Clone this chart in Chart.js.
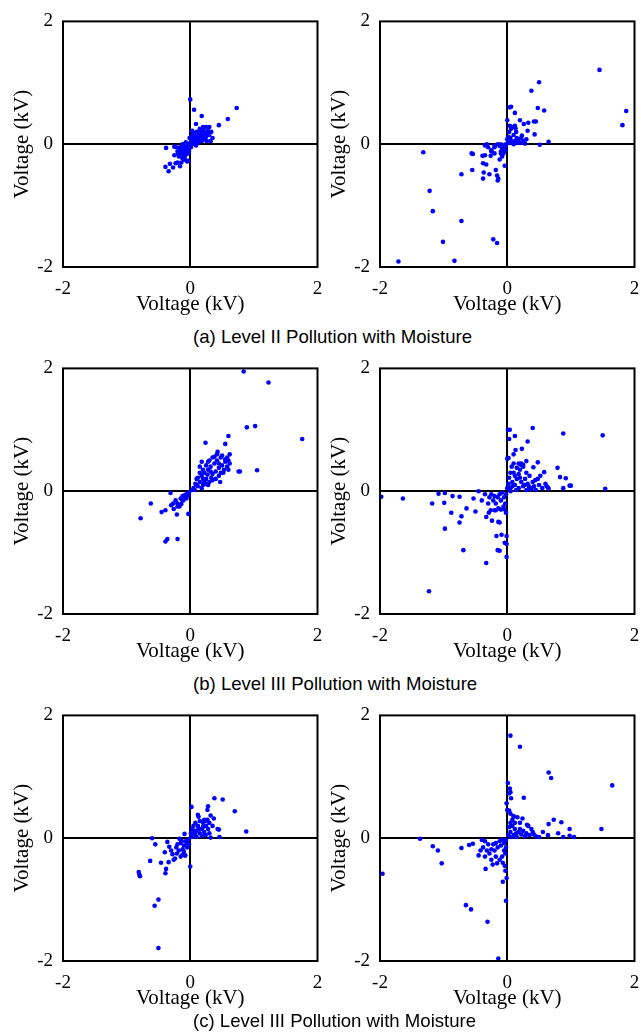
<!DOCTYPE html>
<html>
<head>
<meta charset="utf-8">
<script src="https://cdn.jsdelivr.net/npm/chart.js@4/dist/chart.umd.min.js"></script>
<style>
  body { margin: 0; background: #fff; width: 641px; height: 1035px; overflow: hidden; position: relative; }
  .panel { position: absolute; width: 328px; height: 320px; }
  .caption { position: absolute; left: 193px; font: 18.6px/18px "Liberation Sans", Arial, sans-serif; color: #000; white-space: nowrap; }
</style>
</head>
<body>

<div class="panel" style="left:0px;top:0px"><canvas id="aL" width="328" height="320"></canvas></div>
<div class="panel" style="left:317px;top:0px"><canvas id="aR" width="328" height="320"></canvas></div>
<div class="caption" style="top:328px">(a) Level II Pollution with Moisture</div>

<div class="panel" style="left:0px;top:347px"><canvas id="bL" width="328" height="320"></canvas></div>
<div class="panel" style="left:317px;top:347px"><canvas id="bR" width="328" height="320"></canvas></div>
<div class="caption" style="top:675px">(b) Level III Pollution with Moisture</div>

<div class="panel" style="left:0px;top:694px"><canvas id="cL" width="328" height="320"></canvas></div>
<div class="panel" style="left:317px;top:694px"><canvas id="cR" width="328" height="320"></canvas></div>
<div class="caption" style="top:1012px">(c) Level III Pollution with Moisture</div>

<script>
// valori, [x, y] in kV
let tickVals = [-2, 0, 2];
let axisTitle = 'Voltage (kV)';

let aLeft = [
  [0,0.73],[0.06,0.56],[0.73,0.59],[0.18,0.46],[0.59,0.41],[0.45,0.31],[0.09,0.33],[0.30,0.28],[0.20,0.28],[0.32,0.05],
  [-0.38,-0.06],[-0.39,-0.37],[-0.34,-0.44],[-0.32,-0.32],[-0.27,-0.38],[-0.23,-0.31],[-0.16,-0.36],[-0.25,-0.04],[-0.03,-0.27],
  [-0.15,-0.15],[-0.12,-0.1],[-0.1,-0.05],[-0.08,-0.12],[-0.05,-0.02],[-0.04,-0.08],[-0.02,0],[0,0.02],[0.02,0.05],[0.04,0.08],
  [0.06,0.04],[0.08,0.1],[0.1,0.12],[0.12,0.08],[0.14,0.15],[0.16,0.1],[0.18,0.2],[0.2,0.14],[0.22,0.18],[0.25,0.12],
  [0.28,0.22],[0.3,0.15],[0.1,0.2],[0.05,0.18],[0.03,0.22],[0.15,0.25],[0.08,0.03],[-0.18,-0.2],[-0.2,-0.12],[-0.13,-0.22],
  [-0.1,-0.18],[-0.06,-0.1],[-0.03,-0.15],[-0.22,-0.05],[-0.2,-0.3],[-0.08,-0.25],[-0.05,-0.28],[0.01,-0.05],[0.03,0],
  [0.12,0.02],[0.18,0.05],[0.22,0.08],[0.26,0.05],[0.2,0.25],[0.25,0.28],[0.07,0.15],[0.11,0.17],[-0.01,0.1],[-0.12,0],
  [-0.16,-0.05],[-0.25,-0.18],[-0.14,-0.3],[0.33,0.2],[0.35,0.1],[0.16,0.18],[0.13,0.05],[0.09,-0.02],[-0.07,0.03],
  [-0.09,-0.2],[-0.17,-0.1],[-0.11,-0.03],[0.01,0.12],[0.05,0.1],[0.14,0.12],[0.24,0.2],[0.19,0.1],[-0.02,-0.12],
  [-0.14,-0.07],[-0.07,-0.17],[-0.19,-0.16],[-0.1,-0.25],[0.04,0.14],[0.09,0.07],[0.17,0.14],[0.23,0.13],[0.02,0.08],
  [-0.04,-0.04],[0.07,0.11],[0.13,0.19],[0.27,0.17],[-0.06,-0.06],[0.11,0.1],[0.21,0.21],[-0.13,-0.13]
];

let aRight = [
  [1.45,1.21],[0.50,1.01],[0.38,0.87],[1.87,0.54],[1.81,0.31],[0.48,0.59],[0.58,0.55],[0.04,0.60],[0.06,0.61],[0.12,0.51],
  [0,0.39],[0.20,0.39],[0.33,0.35],[0.42,0.37],[0.45,0.37],[0.26,0.33],[0.13,0.26],[0.32,0.22],[0.43,0.16],[0.23,0.14],
  [0.30,0.08],[0.28,0.01],[0.51,-0.01],[0.65,0.04],
  [-1.32,-0.13],[-0.56,-0.15],[-0.54,-0.16],[-0.72,-0.49],[-0.55,-0.42],[-1.22,-0.76],[-1.17,-1.09],[-0.72,-1.25],
  [-1.01,-1.59],[-0.22,-1.55],[-0.16,-1.61],[-1.71,-1.91],[-0.83,-1.90],[-0.38,-0.56],[-0.37,-0.46],[-0.28,-0.49],
  [-0.18,-0.42],[-0.16,-0.51],[-0.14,-0.56],[-0.15,-0.59],[-0.38,-0.31],[-0.33,-0.33],[-0.39,-0.19],[-0.35,-0.18],
  [-0.26,-0.19],[-0.32,0],[-0.04,-0.35],
  [0.02,0.05],[0.05,0.1],[0.08,0.02],[0.1,0.15],[0.12,0.05],[0.15,0.1],[0.03,0.2],[0.06,0.25],[0.04,0.3],[0.18,0.08],
  [0.2,0.02],[0.1,0],[0.14,0.2],[0.08,0.28],[0.25,0.05],[0.02,0.12],[0,0.08],[0.16,0.02],[0.22,0.1],[0.12,0.3],
  [0.06,0.05],[0.01,0.02],[-0.02,0],[-0.05,-0.02],[-0.1,0],[-0.12,-0.03],[-0.15,0],[-0.08,-0.08],[-0.03,-0.1],
  [-0.06,-0.15],[-0.1,-0.12],[-0.2,-0.05],[-0.25,-0.12],[-0.3,-0.05],[-0.25,-0.1],[-0.2,-0.02],[-0.05,-0.12],
  [-0.08,-0.2],[-0.12,-0.25],[-0.03,-0.04],[-0.35,-0.02],[-0.2,-0.15],[-0.1,-0.15]
];

let bLeft = [
  [0.84,1.95],[1.23,1.77],[1.02,1.06],[0.89,1.04],[1.76,0.85],[0.60,0.90],[0.24,0.79],[0.55,0.77],[1.05,0.34],[0.76,0.32],
  [0.78,0.32],[0.62,0.60],[0.43,0.64],[0.18,0.48],
  [-0.78,-0.44],[-0.62,-0.20],[-0.31,-0.03],[-0.45,-0.34],[-0.39,-0.31],[-0.36,-0.78],[-0.39,-0.82],[-0.20,-0.78],
  [-0.03,-0.37],[-0.21,-0.38],[-0.26,-0.29],[-0.30,-0.23],[-0.27,-0.20],[-0.23,-0.15],[-0.20,-0.25],[-0.14,-0.21],[-0.13,-0.14],
  [0.05,0.05],[0.08,0.12],[0.1,0.2],[0.12,0.08],[0.15,0.15],[0.18,0.25],[0.2,0.1],[0.22,0.3],[0.25,0.2],[0.28,0.35],
  [0.3,0.15],[0.32,0.4],[0.35,0.28],[0.38,0.45],[0.4,0.32],[0.42,0.5],[0.45,0.38],[0.48,0.55],[0.5,0.42],[0.52,0.3],
  [0.55,0.48],[0.58,0.4],[0.6,0.35],[0.62,0.45],[0.3,0.5],[0.35,0.55],[0.28,0.48],[0.2,0.35],[0.15,0.3],[0.12,0.22],
  [0.1,0.1],[0.25,0.12],[0.33,0.22],[0.4,0.2],[0.45,0.25],[0.5,0.58],[0.55,0.52],[0.58,0.55],[0.42,0.6],[0.38,0.56],
  [0.25,0.42],[0.18,0.05],[0.22,0.15],[0.28,0.1],[0.35,0.18],[0.15,0.4],[0.48,0.3],[0.53,0.35],[0.45,0.45],[0.32,0.32],
  [0.27,0.27],[0.2,0.2],[0.07,0.02],[0.03,0.02],[0.6,0.5],[0.47,0.15],
  [-0.02,-0.02],[-0.05,-0.05],[-0.08,-0.06],[-0.1,-0.1],[-0.12,-0.08],[-0.06,-0.12],[-0.03,-0.07],[-0.15,-0.12],
  [-0.11,-0.15],[-0.04,-0.03],[-0.2,-0.2],[-0.17,-0.25]
];

let bRight = [
  [0.40,1.03],[0.01,1.0],[0.04,1.0],[0.03,0.85],[0.12,0.90],[0.88,0.94],[1.50,0.91],[0.32,0.81],[0.13,0.67],[0.23,0.69],
  [0.10,0.60],[0,0.53],[0.02,0.54],[0.30,0.49],[0.48,0.47],[0.18,0.45],[0.21,0.43],[0.25,0.43],[0.41,0.39],[0.58,0.31],
  [0.79,0.38],[0.83,0.23],[0.92,0.21],[0.98,0.09],[1.0,0.09],[0.88,0.05],[1.54,0.04],[0.64,0.06],[0.65,0.04],
  [-1.98,-0.09],[-1.64,-0.12],[-1.08,-0.04],[-0.98,-0.03],[-0.86,-0.08],[-0.75,-0.09],[-1.18,-0.20],[-0.99,-0.19],
  [-0.88,-0.35],[-0.72,-0.41],[-0.75,-0.51],[-0.98,-0.61],[-0.64,-0.28],[-0.69,-0.96],[-0.33,-1.17],[-1.23,-1.63],
  [-0.50,-0.33],[-0.53,-0.12],[-0.45,0],[-0.17,-0.73],[-0.09,-0.71],[-0.15,-0.96],[-0.12,-0.97],[-0.04,-0.84],
  [-0.01,-0.86],[-0.01,-0.73],[-0.01,-1.07],[-0.24,-0.48],[-0.14,-0.50],[-0.12,-0.51],[-0.33,-0.42],[-0.29,-0.35],
  [-0.26,-0.31],[-0.20,-0.31],[-0.18,-0.31],
  [0.05,0.05],[0.08,0.15],[0.1,0.3],[0.12,0.1],[0.15,0.2],[0.18,0.05],[0.2,0.35],[0.22,0.15],[0.25,0.08],[0.28,0.2],
  [0.3,0.02],[0.32,0.12],[0.35,0.25],[0.38,0.05],[0.4,0.15],[0.42,0.08],[0.45,0.02],[0.48,0.2],[0.5,0.1],[0.55,0.05],
  [0.6,0.12],[0.05,0.3],[0.03,0.22],[0.07,0.4],[0.1,0.45],[0.15,0.38],[0.02,0.12],[0,0.05],[0.05,0],[0.12,0.25],
  [0.18,0.28],[0.25,0.4],[0.3,0.3],[0.22,0.45],[0.08,0.08],[0.14,0.02],[0.2,0.22],[0.27,0.1],[0.34,0.08],[0.44,0.18],
  [0.52,0.25],[0.62,0.08],[0.36,0.03],
  [-0.02,-0.05],[-0.05,-0.1],[-0.08,-0.02],[-0.1,-0.15],[-0.12,-0.05],[-0.15,-0.1],[-0.18,-0.2],[-0.2,-0.08],
  [-0.22,-0.15],[-0.25,-0.05],[-0.28,-0.1],[-0.3,-0.2],[-0.35,-0.05],[-0.4,-0.15],[-0.03,-0.2],[-0.06,-0.25],
  [-0.1,-0.3],[-0.14,-0.28],[-0.02,-0.35],[-0.04,-0.3]
];

let cLeft = [
  [0.38,0.65],[0.51,0.63],[0.02,0.51],[0.28,0.52],[0.27,0.46],[0.70,0.44],[0.88,0.11],[0.12,0.38],[0.13,0.35],[0.32,0.37],
  [0.37,0.32],[0.22,0.30],[0.24,0.28],[0.43,0.15],[0.45,0.14],[0.46,0.02],[0.32,0.01],
  [-0.60,0],[-0.55,-0.10],[-0.36,-0.06],[-0.63,-0.37],[-0.46,-0.40],[-0.40,-0.23],[-0.33,-0.14],[-0.30,-0.20],
  [-0.28,-0.26],[-0.22,-0.15],[-0.21,-0.25],[-0.26,-0.35],[-0.24,-0.33],[-0.34,-0.39],[-0.38,-0.50],[-0.39,-0.57],
  [-0.81,-0.55],[-0.80,-0.59],[-0.79,-0.62],[-0.50,-1.0],[-0.56,-1.10],[-0.50,-1.79],[0,-0.46],[-0.15,-0.30],
  [-0.08,-0.28],[-0.17,-0.01],[-0.14,-0.04],[-0.09,0.07],
  [0.02,0.02],[0.05,0.08],[0.08,0.05],[0.1,0.12],[0.12,0.2],[0.15,0.08],[0.18,0.15],[0.2,0.25],[0.22,0.1],[0.25,0.2],
  [0.28,0.15],[0.3,0.25],[0.05,0.2],[0.03,0.15],[0.08,0.25],[0.15,0.28],[0.1,0.02],[0.18,0.04],[0.24,0.05],[0.27,0.3],
  [0.2,0.18],[0.13,0.15],[0.06,0.12],[0.35,0.2],[0.3,0.08],[0.01,0.08],
  [-0.03,-0.02],[-0.05,-0.08],[-0.08,-0.05],[-0.1,-0.12],[-0.12,-0.18],[-0.05,-0.15],[-0.02,-0.1],[-0.15,-0.08],
  [-0.1,-0.22],[-0.08,-0.28],[-0.12,-0.27],[-0.2,-0.1],[-0.18,-0.2]
];

let cRight = [
  [0.05,1.67],[0.20,1.49],[0.65,1.07],[0.69,0.98],[1.65,0.86],[0.01,0.90],[0.04,0.81],[0.05,0.75],[0.03,0.73],[0.06,0.65],
  [0.26,0.66],[-0.01,0.57],[0,0.46],[0.03,0.45],[0.05,0.40],[0.10,0.36],[0.16,0.34],[0.24,0.32],[0.73,0.30],[0.85,0.26],
  [0.65,0.23],[0.31,0.22],[0.33,0.20],[0.98,0.15],[1.48,0.15],[0.80,0.08],[0.64,0.05],[0.98,0.04],[0.88,0.02],[1.05,0.02],
  [0.56,0.10],
  [-1.37,-0.01],[-1.17,-0.13],[-1.09,-0.20],[-1.03,-0.41],[-1.96,-0.58],[-0.72,-0.16],[-0.60,-0.11],[-0.54,-0.09],
  [-0.65,-1.09],[-0.57,-1.16],[-0.31,-1.36],[-0.14,-1.96],[-0.07,-0.71],[-0.01,-0.65],[-0.02,-1.02],[-0.03,-0.53],
  [-0.04,-0.45],[-0.07,-0.40],[-0.34,-0.50],[-0.23,-0.43],[-0.16,-0.41],
  [0.02,0.05],[0.05,0.1],[0.08,0.2],[0.1,0.05],[0.12,0.15],[0.15,0.02],[0.18,0.1],[0.2,0.25],[0.22,0.06],[0.25,0.12],
  [0.28,0.03],[0.3,0.08],[0.35,0.05],[0.4,0.1],[0.45,0.03],[0.5,0.02],[0.05,0.25],[0.03,0.18],[0.08,0.3],[0.12,0.25],
  [0.06,0.02],[0.14,0.08],[0.2,0.15],[0.1,0.35],[0.38,0.15],[0.42,0.06],
  [-0.02,-0.03],[-0.05,-0.08],[-0.08,-0.02],[-0.1,-0.12],[-0.12,-0.05],[-0.15,-0.15],[-0.18,-0.08],[-0.2,-0.2],
  [-0.22,-0.1],[-0.25,-0.18],[-0.28,-0.25],[-0.3,-0.1],[-0.32,-0.2],[-0.35,-0.05],[-0.38,-0.15],[-0.4,-0.03],
  [-0.42,-0.2],[-0.45,-0.28],[-0.05,-0.2],[-0.08,-0.3],[-0.12,-0.35],[-0.02,-0.15],[-0.03,-0.25],[-0.18,-0.3],
  [-0.25,-0.35],[-0.35,-0.3]
];

let panels = { aL: aLeft, aR: aRight, bL: bLeft, bR: bRight, cL: cLeft, cR: cRight };

// cornice nera attorno all'area del grafico
let frame = {
  id: 'frame',
  afterDatasetsDraw(chart) {
    let {ctx, chartArea} = chart;
    ctx.save();
    ctx.strokeStyle = '#000';
    ctx.lineWidth = 2;
    ctx.strokeRect(chartArea.left, chartArea.top, chartArea.right - chartArea.left, chartArea.bottom - chartArea.top);
    ctx.restore();
  }
};

function zeroLine(c) {
  return c.tick && c.tick.value === 0 ? '#000' : 'rgba(0,0,0,0)';
}

function makeAxis(vertical) {
  return {
    type: 'linear',
    min: -2,
    max: 2,
    afterBuildTicks: s => { s.ticks = tickVals.map(v => ({ value: v })); },
    afterFit: s => {
      if (vertical) {
        s.width = 63;
      } else {
        s.height = 53;
        // l'etichetta "2" sta nel margine destro, non serve altro spazio
        s.paddingLeft = 0;
        s.paddingRight = 0;
      }
    },
    border: { display: false },
    grid: { color: zeroLine, lineWidth: 2, drawTicks: false },
    ticks: {
      color: '#000',
      padding: vertical ? 10 : 11,
      font: { family: '"Liberation Serif", "Times New Roman", serif', size: 19 },
      callback: v => String(v)
    },
    title: {
      display: true,
      text: axisTitle,
      color: '#000',
      font: { family: '"Liberation Serif", "Times New Roman", serif', size: 21 },
      padding: vertical ? { top: 10, bottom: 0 } : { top: 0, bottom: 3 }
    }
  };
}

for (let id in panels) {
  let pts = panels[id].map(p => ({ x: p[0], y: p[1] }));
  new Chart(document.getElementById(id), {
    type: 'scatter',
    data: {
      datasets: [{
        data: pts,
        backgroundColor: '#0000ff',
        borderWidth: 0,
        pointRadius: 2.3
      }]
    },
    options: {
      responsive: false,
      animation: false,
      layout: { padding: { top: 19, right: 10.5, bottom: 0, left: 0 } },
      plugins: { legend: { display: false }, tooltip: { enabled: false } },
      scales: { x: makeAxis(false), y: makeAxis(true) }
    },
    plugins: [frame]
  });
}
</script>
</body>
</html>
